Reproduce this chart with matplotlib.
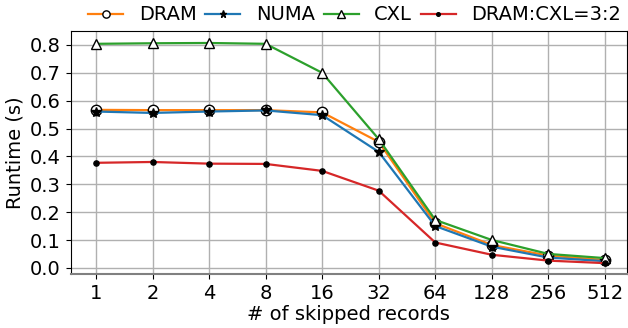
import numpy as np
import matplotlib
matplotlib.use('Agg')
import matplotlib.pyplot as plt

skipped = ['1', '2', '4', '8', '16', '32', '64', '128', '256', '512']
dram = [0.567, 0.566, 0.566, 0.566, 0.558, 0.452, 0.160, 0.082, 0.044, 0.028]
numa = [0.561, 0.556, 0.561, 0.565, 0.548, 0.416, 0.150, 0.076, 0.037, 0.024]
cxl = [0.804, 0.806, 0.807, 0.804, 0.700, 0.462, 0.172, 0.100, 0.050, 0.035]
mix = [0.377, 0.380, 0.374, 0.373, 0.348, 0.277, 0.091, 0.047, 0.026, 0.017]

plt.rcParams['font.size'] = 14
fig = plt.figure(figsize=(6.28, 3.28), dpi=100)
ax = fig.add_axes([70.5 / 628, 1 - 274 / 328, (627 - 70.5) / 628, (274 - 31) / 328])

x = np.arange(len(skipped))
ax.plot(x, dram, color='tab:orange', marker='o', mfc='white', mec='black', ms=7.5, lw=1.6, label='DRAM')
ax.plot(x, numa, color='tab:blue', marker='*', mfc='black', mec='black', ms=7.5, lw=1.6, label='NUMA')
ax.plot(x, cxl, color='tab:green', marker='^', mfc='white', mec='black', ms=7.5, lw=1.6, label='CXL')
ax.plot(x, mix, color='tab:red', marker='.', mfc='black', mec='black', ms=7.5, lw=1.6, label='DRAM:CXL=3:2')

ax.set_xticks(x)
ax.set_xticklabels(skipped)
ax.set_xlim(-0.45, 9.39)
ax.set_ylim(-0.022, 0.85)
ax.set_yticks(np.arange(0, 0.81, 0.1))
ax.set_xlabel('# of skipped records', labelpad=2)
ax.set_ylabel('Runtime (s)')
ax.grid(True, color='#b0b0b0', lw=1)
ax.set_axisbelow(True)
ax.spines['bottom'].set_color('#808080')
ax.spines['bottom'].set_linewidth(1.5)

ax.legend(loc='lower center', bbox_to_anchor=(0.511, 0.995), ncol=4, frameon=False, markerscale=0.7,
          handlelength=1.8, columnspacing=0.45, handletextpad=0.8, borderaxespad=0)

fig.savefig('out.png', dpi=100)
